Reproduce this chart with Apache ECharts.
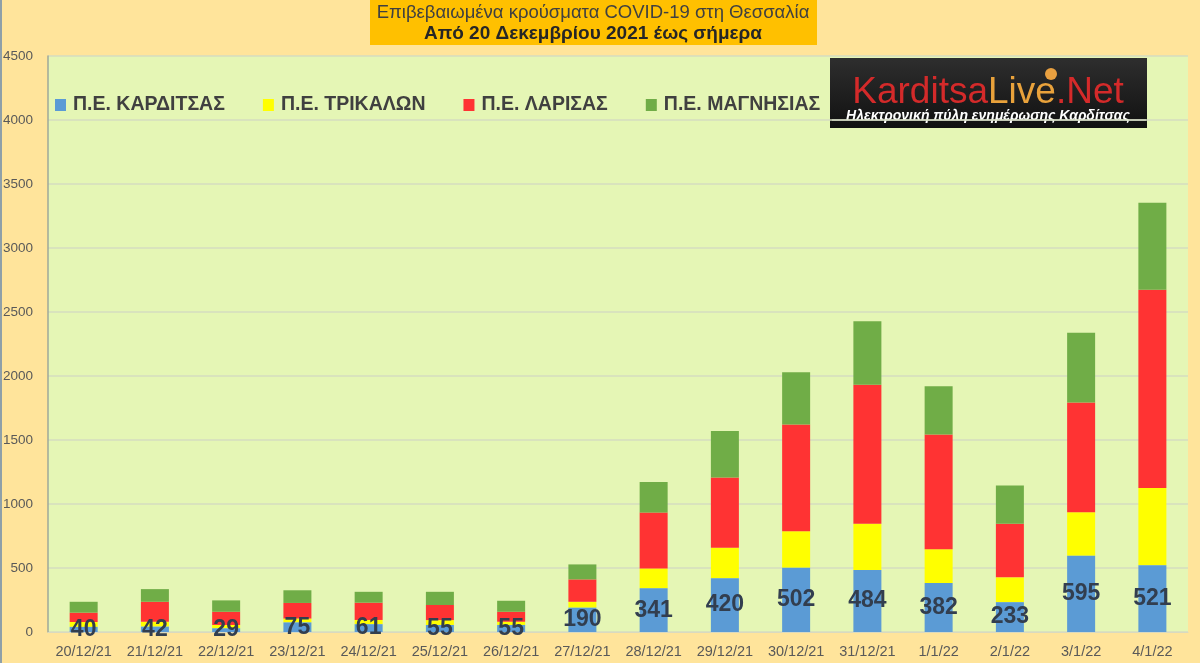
<!DOCTYPE html>
<html>
<head>
<meta charset="utf-8">
<script src="https://cdn.jsdelivr.net/npm/echarts@6/dist/echarts.min.js"></script>
<style>
html,body{margin:0;padding:0;background:#FFE49B;}
#chart{width:1200px;height:663px;}
</style>
</head>
<body>
<div id="chart"></div>
<script>
const categories = ['20/12/21','21/12/21','22/12/21','23/12/21','24/12/21','25/12/21','26/12/21','27/12/21','28/12/21','29/12/21','30/12/21','31/12/21','1/1/22','2/1/22','3/1/22','4/1/22'];
const karditsa = [40,42,29,75,61,55,55,190,341,420,502,484,382,233,595,521];
const trikala  = [38,38,26,30,33,38,25,46,156,238,286,361,265,194,341,604];
const larisa   = [73,156,103,122,135,118,78,175,436,549,834,1087,895,418,856,1548];
const magnisia = [85,99,89,99,85,103,86,117,239,363,408,496,377,299,546,681];
const seriesNames = ['Π.Ε. ΚΑΡΔΙΤΣΑΣ','Π.Ε. ΤΡΙΚΑΛΩΝ','Π.Ε. ΛΑΡΙΣΑΣ','Π.Ε. ΜΑΓΝΗΣΙΑΣ'];
const titleLine1 = 'Επιβεβαιωμένα κρούσματα COVID-19 στη Θεσσαλία';
const titleLine2 = 'Από 20 Δεκεμβρίου 2021 έως σήμερα';

const colors = ['#5B9BD5','#FFFF00','#FF3333','#70AD47'];
const sans = '"Liberation Sans",Arial,sans-serif';

const chart = echarts.init(document.getElementById('chart'));
const values = [karditsa, trikala, larisa, magnisia];
const series = values.map((v, i) => ({
  name: seriesNames[i],
  type: 'bar',
  stack: 'total',
  data: v,
  barWidth: 28,
  itemStyle: {color: colors[i]},
  label: i === 0 ? {
    show: true, position: 'inside',
    fontFamily: sans, fontWeight: 'bold', fontSize: 23, color: '#323E4F'
  } : {show: false},
  z: i === 0 ? 3 : 2
}));

chart.setOption({
  backgroundColor: '#FFE49B',
  animation: false,
  color: colors,
  grid: {left: 48, right: 12, top: 56, bottom: 31, show: true, backgroundColor: '#E5F6B5', borderWidth: 0},
  legend: {
    left: 50, top: 90,
    itemWidth: 11, itemHeight: 12, itemGap: 38,
    icon: 'rect',
    textStyle: {fontFamily: sans, fontWeight: 'bold', fontSize: 19.5, color: '#404040', padding: [0,0,0,2]},
    data: seriesNames
  },
  xAxis: {
    type: 'category',
    data: categories,
    axisLine: {show: true, lineStyle: {color: '#D9D9C0'}},
    axisTick: {show: false},
    axisLabel: {fontFamily: sans, fontSize: 14.5, color: '#595959', margin: 12, interval: 0}
  },
  yAxis: {
    type: 'value', min: 0, max: 4500, interval: 500,
    axisLine: {show: true, lineStyle: {color: '#9EA89A', width: 1.5}},
    axisTick: {show: false},
    splitLine: {lineStyle: {color: '#D5DDC0', width: 1.5}},
    axisLabel: {fontFamily: sans, fontSize: 13.5, color: '#595959', margin: 15, formatter: v => String(v)}
  },
  series: series,
  graphic: [
    {type: 'rect', shape: {x: 0, y: 0, width: 2, height: 663}, style: {fill: '#8FA0A8'}, silent: true},
    {type: 'rect', shape: {x: 370, y: 0, width: 447, height: 45}, style: {fill: '#FFC000'}, silent: true},
    {type: 'text', x: 593, y: 13, style: {text: titleLine1, fontFamily: sans, fontSize: 18.5, fill: '#404040', align: 'center', verticalAlign: 'middle'}},
    {type: 'text', x: 593, y: 34, style: {text: titleLine2, fontFamily: sans, fontWeight: 'bold', fontSize: 19, fill: '#262626', align: 'center', verticalAlign: 'middle'}},
    {type: 'rect', shape: {x: 830, y: 58, width: 317, height: 70},
      style: {fill: new echarts.graphic.LinearGradient(0,0,0,1,[{offset:0,color:'#2E2E2E'},{offset:1,color:'#111111'}])}, silent: true},
    {type: 'circle', shape: {cx: 1051, cy: 74, r: 6}, style: {fill: '#E8A040'}, silent: true},
    {type: 'text', x: 988, y: 93, style: {
      text: '{a|Karditsa}{b|Live}{a|.Net}',
      align: 'center', verticalAlign: 'middle',
      rich: {
        a: {fontFamily: sans, fontSize: 37, fill: '#D42A2A', color: '#D42A2A'},
        b: {fontFamily: sans, fontSize: 37, fill: '#E9A23B', color: '#E9A23B'}
      }
    }},
    {type: 'text', x: 988, y: 116, style: {text: 'Ηλεκτρονική πύλη ενημέρωσης Καρδίτσας', fontFamily: sans, fontStyle: 'italic', fontWeight: 'bold', fontSize: 14, fill: '#FFFFFF', align: 'center', verticalAlign: 'middle'}},
    {type: 'line', shape: {x1: 832, y1: 120, x2: 1146, y2: 120}, style: {stroke: '#FFFFFF', lineWidth: 1}, silent: true}
  ]
});
</script>
</body>
</html>
